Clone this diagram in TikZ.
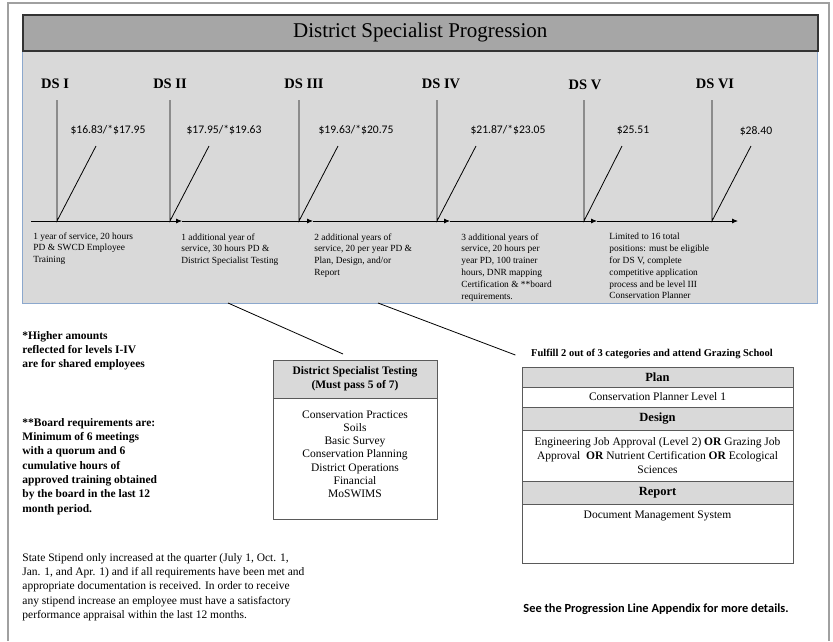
\documentclass[tikz,border=0pt]{standalone}
\usepackage{fontspec}
\setmainfont{Liberation Serif}
\setsansfont{Carlito}
\usepackage{tikz}
\usetikzlibrary{positioning,arrows.meta}
\usepackage{xcolor}
\definecolor{titleGray}{RGB}{166, 166, 166}
\definecolor{panelGray}{RGB}{217, 217, 217}
\definecolor{panelBlue}{RGB}{140, 168, 205}
\definecolor{frameGray}{RGB}{160, 160, 160}
\definecolor{rowGray}{RGB}{217, 217, 217}
\definecolor{boxLine}{RGB}{90, 90, 90}

\tikzset{
  dslabel/.style={font=\bfseries\fontsize{14.5}{16}\selectfont},
  wage/.style={font=\sffamily\fontsize{11.6}{13}\selectfont},
  req/.style={anchor=north west, align=left, inner sep=0,
    font=\fontsize{9.4}{11.8}\selectfont},
  note/.style={anchor=north west, align=left, inner sep=0,
    font=\bfseries\fontsize{11.5}{14.3}\selectfont},
  tlarrow/.style={-{Latex[length=6pt,width=5pt]}},
  cell/.style={draw=boxLine, line width=0.9pt, minimum width=271pt,
    outer sep=0, inner sep=0, align=center,
    font=\fontsize{11.5}{14}\selectfont},
  headcell/.style={cell, fill=rowGray, font=\bfseries\fontsize{12.5}{14}\selectfont},
}

\begin{document}
\begin{tikzpicture}[x=1pt, y=-1pt, line width=0.8pt]
  \useasboundingbox (0,0) rectangle (833,641);

  % page frame
  \draw[frameGray, line width=1.5pt] (8,641) -- (8,3) -- (829,3) -- (829,641);

  % panel and title bar
  \node[draw=panelBlue, fill=panelGray, line width=0.9pt, inner sep=0, outer sep=0,
    minimum width=795pt, minimum height=253pt, anchor=north west] (panel) at (22,50) {};
  \node[draw=black!80, fill=titleGray, line width=1.6pt, inner sep=0,
    minimum width=795pt, minimum height=36pt, anchor=north west,
    font=\fontsize{21}{24}\selectfont] (title) at (22,14) {District Specialist Progression};

  % level labels
  \node[dslabel] (ds1) at (55,84) {DS I};
  \node[dslabel] (ds2) at (170,84) {DS II};
  \node[dslabel] (ds3) at (304,84) {DS III};
  \node[dslabel] (ds4) at (441,84) {DS IV};
  \node[dslabel] (ds5) at (585,85) {DS V};
  \node[dslabel] (ds6) at (715,84) {DS VI};

  % wages
  \node[wage] (w1) at (108,130) {\$16.83/*\$17.95};
  \node[wage] (w2) at (224,130) {\$17.95/*\$19.63};
  \node[wage] (w3) at (356,130) {\$19.63/*\$20.75};
  \node[wage] (w4) at (508,130) {\$21.87/*\$23.05};
  \node[wage] (w5) at (633,130) {\$25.51};
  \node[wage] (w6) at (756,131) {\$28.40};

  % timeline
  \coordinate (tl0) at (31,221);
  \coordinate (tl1) at (182,221);
  \coordinate (tl2) at (313,221);
  \coordinate (tl3) at (450,221);
  \coordinate (tl4) at (597,221);
  \coordinate (tl5) at (738,221);
  \draw[tlarrow] (tl0) -- (tl1);
  \draw[tlarrow] (tl1) -- (tl2);
  \draw[tlarrow] (tl2) -- (tl3);
  \draw[tlarrow] (tl3) -- (tl4);
  \draw[tlarrow] (tl4) -- (tl5);

  % steps
  \coordinate (top1) at (57,100);  \coordinate (foot1) at (57,221);  \coordinate (tip1) at (96,146);
  \coordinate (top2) at (170,100); \coordinate (foot2) at (170,221); \coordinate (tip2) at (209,146);
  \coordinate (top3) at (299,100); \coordinate (foot3) at (299,221); \coordinate (tip3) at (338,146);
  \coordinate (top4) at (437,100); \coordinate (foot4) at (437,221); \coordinate (tip4) at (476,146);
  \coordinate (top5) at (584,100); \coordinate (foot5) at (584,221); \coordinate (tip5) at (622,146);
  \coordinate (top6) at (712,100); \coordinate (foot6) at (712,221); \coordinate (tip6) at (751,146);
  \draw (top1) -- (foot1) -- (tip1);
  \draw (top2) -- (foot2) -- (tip2);
  \draw (top3) -- (foot3) -- (tip3);
  \draw (top4) -- (foot4) -- (tip4);
  \draw (top5) -- (foot5) -- (tip5);
  \draw (top6) -- (foot6) -- (tip6);

  % requirements
  \node[req] (r1) at (33,232) {1 year of service, 20 hours\\PD \& SWCD Employee\\Training};
  \node[req] (r2) at (181,233) {1 additional year of\\service, 30 hours PD \&\\District Specialist Testing};
  \node[req] (r3) at (314,233) {2 additional years of\\service, 20 per year PD \&\\Plan, Design, and/or\\Report};
  \node[req] (r4) at (461,233) {3 additional years of\\service, 20 hours per\\year PD, 100 trainer\\hours, DNR mapping\\Certification \& **board\\requirements.};
  \node[req] (r5) at (609,233) {Limited to 16 total\\positions: must be eligible\\for DS V, complete\\competitive application\\process and be level III\\Conservation Planner};

  % notes
  \node[note] (shared) at (22,331) {*Higher amounts\\reflected for levels I-IV\\are for shared employees};
  \node[note] (board) at (22,418) {**Board requirements are:\\Minimum of 6 meetings\\with a quorum and 6\\cumulative hours of\\approved training obtained\\by the board in the last 12\\month period.};
  \node[anchor=north west, align=left, inner sep=0, font=\fontsize{11.5}{14.3}\selectfont] (stipend) at (22,553)
    {State Stipend only increased at the quarter (July 1, Oct. 1,\\Jan. 1, and Apr. 1) and if all requirements have been met and\\appropriate documentation is received. In order to receive\\any stipend increase an employee must have a satisfactory\\performance appraisal within the last 12 months.};

  % testing box
  \node[draw=boxLine, fill=rowGray, line width=0.9pt, outer sep=0, inner sep=0,
    minimum width=164pt, minimum height=38pt, anchor=north west, align=center,
    font=\bfseries\fontsize{11.5}{14.3}\selectfont] (dsthead) at (273,360)
    {District Specialist Testing\\(Must pass 5 of 7)};
  \node[draw=boxLine, line width=0.9pt, outer sep=0, inner sep=0,
    minimum width=164pt, minimum height=121pt, below=0pt of dsthead] (dstbody) {};
  \node[anchor=north, align=center, inner sep=0, font=\fontsize{11.5}{13.3}\selectfont]
    (dstlist) at ([yshift=-12pt]dstbody.north)
    {Conservation Practices\\Soils\\Basic Survey\\Conservation Planning\\District Operations\\Financial\\MoSWIMS};

  % categories table
  \node[font=\bfseries\fontsize{10.5}{12}\selectfont] (fulfill) at (652,354)
    {Fulfill 2 out of 3 categories and attend Grazing School};
  \node[headcell, minimum height=20pt, anchor=north west] (planhead) at (522,367) {Plan};
  \node[cell, minimum height=20pt, below=0pt of planhead] (planbody) {Conservation Planner Level 1};
  \node[headcell, minimum height=23pt, below=0pt of planbody] (designhead) {Design};
  \node[cell, minimum height=51pt, below=0pt of designhead] (designbody)
    {Engineering Job Approval (Level 2) \textbf{OR} Grazing Job\\Approval\ \ \textbf{OR} Nutrient Certification \textbf{OR} Ecological\\Sciences};
  \node[headcell, minimum height=23pt, below=0pt of designbody] (reporthead) {Report};
  \node[cell, minimum height=59pt, below=0pt of reporthead] (reportbody) {};
  \node[font=\fontsize{11.5}{14}\selectfont] (dms) at ([yshift=-12pt]reportbody.north)
    {Document Management System};

  % links from the panel
  \coordinate (lnk1) at (228,303);
  \coordinate (lnk2) at (378,303);
  \draw (lnk1) -- ([xshift=-12pt,yshift=6pt]dsthead.north);
  \draw (lnk2) -- ([xshift=-12pt,yshift=-1pt]fulfill.west);

  \node[font=\sffamily\bfseries\fontsize{12.4}{14}\selectfont] (seemore) at (656,609)
    {See the Progression Line Appendix for more details.};
\end{tikzpicture}
\end{document}
